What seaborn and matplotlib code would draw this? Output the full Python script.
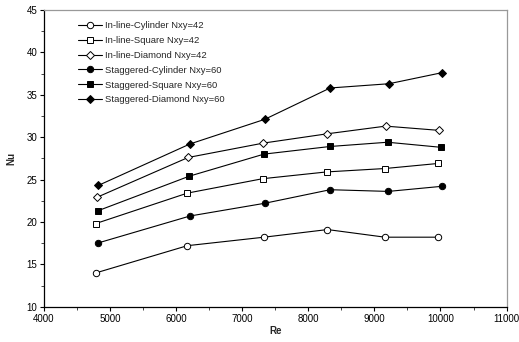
import matplotlib
matplotlib.use("Agg")
import matplotlib.pyplot as plt
import seaborn as sns
import pandas as pd
from matplotlib.ticker import MultipleLocator

sns.set_style("white")
plt.rcParams['font.family'] = ['Liberation Sans', 'DejaVu Sans']

labels = ["In-line-Cylinder Nxy=42", "In-line-Square Nxy=42", "In-line-Diamond Nxy=42",
          "Staggered-Cylinder Nxy=60", "Staggered-Square Nxy=60", "Staggered-Diamond Nxy=60"]
re_inline_cyl = [4790, 6170, 7330, 8290, 9160, 9970]
nu_inline_cyl = [14.0, 17.2, 18.2, 19.1, 18.2, 18.2]
re_inline_sq = [4780, 6170, 7310, 8280, 9160, 9970]
nu_inline_sq = [19.8, 23.4, 25.1, 25.9, 26.3, 26.9]
re_inline_dia = [4800, 6180, 7320, 8290, 9170, 9980]
nu_inline_dia = [22.9, 27.6, 29.3, 30.4, 31.3, 30.8]
re_stag_cyl = [4810, 6210, 7340, 8330, 9210, 10020]
nu_stag_cyl = [17.5, 20.7, 22.2, 23.8, 23.6, 24.2]
re_stag_sq = [4810, 6200, 7330, 8330, 9200, 10010]
nu_stag_sq = [21.3, 25.4, 28.0, 28.9, 29.4, 28.8]
re_stag_dia = [4820, 6210, 7340, 8330, 9220, 10020]
nu_stag_dia = [24.3, 29.2, 32.1, 35.8, 36.3, 37.6]

series = [
    (re_inline_cyl, nu_inline_cyl, "o", "white"),
    (re_inline_sq, nu_inline_sq, "s", "white"),
    (re_inline_dia, nu_inline_dia, "D", "white"),
    (re_stag_cyl, nu_stag_cyl, "o", "black"),
    (re_stag_sq, nu_stag_sq, "s", "black"),
    (re_stag_dia, nu_stag_dia, "D", "black"),
]

fig = plt.figure(figsize=(5.19, 3.42), dpi=100)
ax = fig.add_axes([0.0848, 0.1032, 0.976 - 0.0848, 0.9708 - 0.1032])

for lab, (xs, ys, mk, fc) in zip(labels, series):
    df = pd.DataFrame({"Re": xs, "Nu": ys})
    ms = 4.6 if mk != "D" else 4.0
    sns.lineplot(data=df, x="Re", y="Nu", ax=ax, color="black", linewidth=0.8,
                 marker=mk, markersize=ms, markerfacecolor=fc, markeredgecolor="black",
                 markeredgewidth=0.7, label=lab, sort=False)

ax.set_xlim(4000, 11000)
ax.set_ylim(10, 45)
ax.xaxis.set_major_locator(MultipleLocator(1000))
ax.xaxis.set_minor_locator(MultipleLocator(500))
ax.yaxis.set_major_locator(MultipleLocator(5))
ax.yaxis.set_minor_locator(MultipleLocator(2.5))
ax.tick_params(axis="both", which="major", direction="out", length=3, width=0.8,
               labelsize=7, colors="black", left=True, bottom=True, pad=2)
ax.tick_params(axis="both", which="minor", direction="out", length=2, width=0.6,
               left=True, bottom=True)
for s in ["left", "bottom"]:
    ax.spines[s].set_color("black")
    ax.spines[s].set_linewidth(0.9)
for s in ["right", "top"]:
    ax.spines[s].set_color("#999999")
    ax.spines[s].set_linewidth(0.9)

ax.set_xlabel("Re", fontsize=7, fontweight="bold", labelpad=2)
ax.set_ylabel("Nu", fontsize=7, fontweight="bold", labelpad=7)

leg = ax.legend(loc="upper left", bbox_to_anchor=(0.066, 0.975), frameon=False,
                fontsize=6.8, handlelength=2.5, handletextpad=0.3, labelspacing=0.62,
                borderaxespad=0)

fig.savefig("out.png", dpi=100)
